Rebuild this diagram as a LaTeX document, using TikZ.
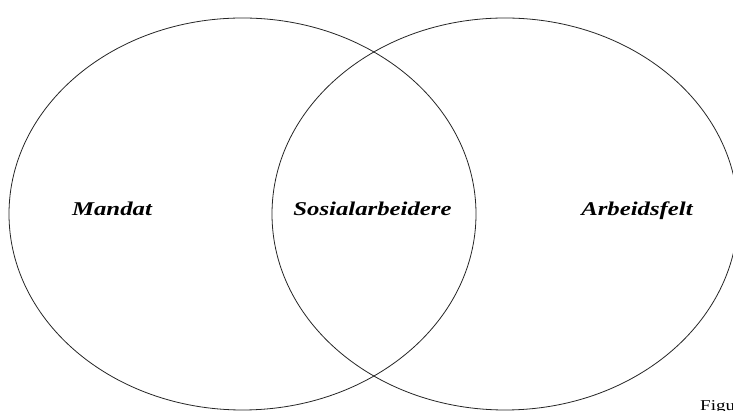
\documentclass[tikz,border=0pt]{standalone}
\usepackage{fontspec}
\usepackage{graphicx}
\setmainfont{Liberation Serif}
\begin{document}
\begin{tikzpicture}[x=1pt,y=1pt,
  venn/.style={draw=black!85,line width=0.8pt},
  lbl/.style={inner sep=0pt,anchor=base,font=\fontsize{19.5}{23}\selectfont\bfseries\itshape},
  figcap/.style={inner sep=0pt,anchor=base west,font=\fontsize{15}{18}\selectfont}]
\useasboundingbox (0,0) rectangle (733,411);
\fill[white] (0,0) rectangle (733,411);
\draw[venn] (242.5,197) ellipse [x radius=233.5, y radius=196];
\draw[venn] (505,197) ellipse [x radius=233, y radius=196];
\node[lbl] (mandat) at (112,195) {\scalebox{1.27}[1]{Mandat}};
\node[lbl] (sosial) at (372.5,195) {\scalebox{1.27}[1]{Sosialarbeidere}};
\node[lbl] (felt) at (637,195) {\scalebox{1.27}[1]{Arbeidsfelt}};
\node[figcap] (fig) at (700,0.5) {\scalebox{1.27}[1]{Figure}};
\end{tikzpicture}
\end{document}
